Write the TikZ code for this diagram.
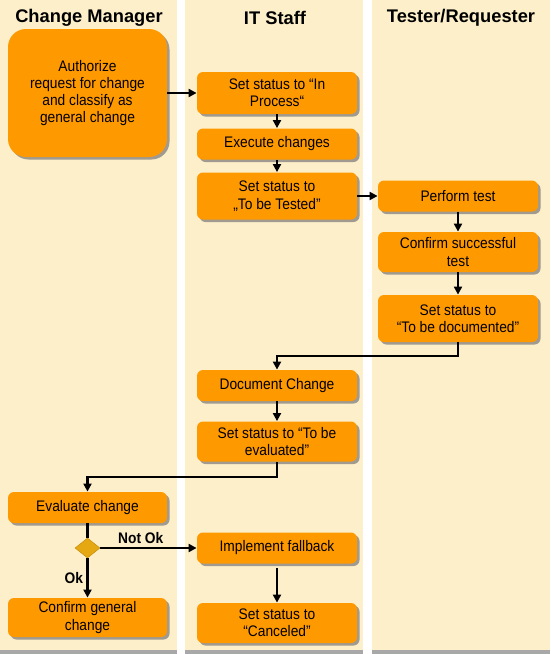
\documentclass[tikz,border=0pt]{standalone}
\usepackage{fontspec}
\setmainfont{Liberation Sans}
\newfontfamily\actfont{Liberation Sans}[FakeStretch=0.9]
\usetikzlibrary{shapes.geometric,arrows.meta,shadows,calc}
\definecolor{lanebg}{HTML}{FDEFC9}
\definecolor{laneline}{HTML}{A8A8A8}
\definecolor{actorange}{HTML}{FF9900}
\definecolor{actshadow}{HTML}{A09A90}
\definecolor{decgold}{HTML}{E6A812}
\begin{document}
\begin{tikzpicture}[x=1pt, y=-1pt, node distance=51pt, thick,
  >={Triangle[length=8pt,width=8pt]},
  flow/.style = {->, line width=2.3pt},
  act/.style = {fill=actorange, rounded corners=6pt, minimum width=160pt, minimum height=31pt, inner sep=3pt, align=center, font=\actfont\fontsize{15.3}{17.3}\selectfont, drop shadow={shadow xshift=2.5pt, shadow yshift=-2.5pt, fill=actshadow, opacity=1}},
  lanetitle/.style = {font=\bfseries\fontsize{18.3}{20}\selectfont},
  choice/.style = {diamond, fill=decgold, draw=decgold!85!black, line width=0.5pt, minimum width=25pt, minimum height=20pt, inner sep=0pt},
  guard/.style = {font=\actfont\bfseries\fontsize{15.3}{17}\selectfont}]
\useasboundingbox (0,0) rectangle (550,654);

\fill[laneline] (0,0) rectangle (177,654);
\fill[laneline] (185,0) rectangle (363,654);
\fill[laneline] (372,0) rectangle (550,654);
\fill[lanebg] (0,0) rectangle (177,650);
\fill[lanebg] (185,0) rectangle (363,650);
\fill[lanebg] (372,0) rectangle (550,650);

\node[lanetitle] (cm) at (89,18) {Change Manager};
\node[lanetitle] (it) at (275,18) {IT Staff};
\node[lanetitle] (tr) at (461,18) {Tester/Requester};

\node[act, rounded corners=18pt, minimum width=159pt, minimum height=128pt] (auth) at (87.5,93) {Authorize\\request for change\\and classify as\\general change};
\node[act, minimum height=42pt] (inproc) [right of=auth, node distance=189.5pt] {Set status to “In\\Process“};
\node[act] (exec) [below of=inproc] {Execute changes};
\node[act, minimum height=47pt] (tested) [below of=exec, node distance=52pt] {Set status to\\„To be Tested”};
\node[act] (perform) [right of=tested, node distance=181pt] {Perform test};
\node[act, minimum height=40pt] (confirm) [below of=perform, node distance=56pt] {Confirm successful\\test};
\node[act, minimum height=47pt] (documented) [below of=confirm, node distance=66.5pt] {Set status to\\“To be documented”};
\node[act] (doc) [below of=tested, node distance=189.5pt] {Document Change};
\node[act, minimum height=40pt] (evaluated) [below of=doc, node distance=56pt] {Set status to “To be\\evaluated”};
\node[act, minimum width=159pt] (evaluate) [below of=auth, node distance=414.5pt] {Evaluate change};
\node[choice] (dec) [below of=evaluate, node distance=40.5pt] {};
\node[act] (fallback) [right of=dec, node distance=189.5pt] {Implement fallback};
\node[act, minimum width=159pt, minimum height=39pt] (general) [below of=dec, node distance=69.5pt] {Confirm general\\change};
\node[act, minimum height=40pt] (canceled) [below of=fallback, node distance=75pt] {Set status to\\“Canceled”};

\draw[flow] (auth) -- (inproc);
\draw[flow] (inproc) -- (exec);
\draw[flow] (exec) -- (tested);
\draw[flow] (tested) -- (perform);
\draw[flow] (perform) -- (confirm);
\draw[flow] (confirm) -- (documented);
\draw[flow] (documented.south) |- ($(documented.south)!0.5!(doc.north)$) -| (doc.north);
\draw[flow] (doc) -- (evaluated);
\draw[flow] (evaluated.south) |- ($(evaluated.south)!0.5!(evaluate.north)$) -| (evaluate.north);
\draw[line width=2.3pt] (evaluate) -- (dec);
\draw[flow] (dec) -- node[guard, pos=0.42, above]{Not Ok} (fallback);
\draw[flow] (dec) -- node[guard, midway, left]{Ok} (general);
\draw[flow, shorten <=4pt] (fallback) -- (canceled);
\end{tikzpicture}
\end{document}
